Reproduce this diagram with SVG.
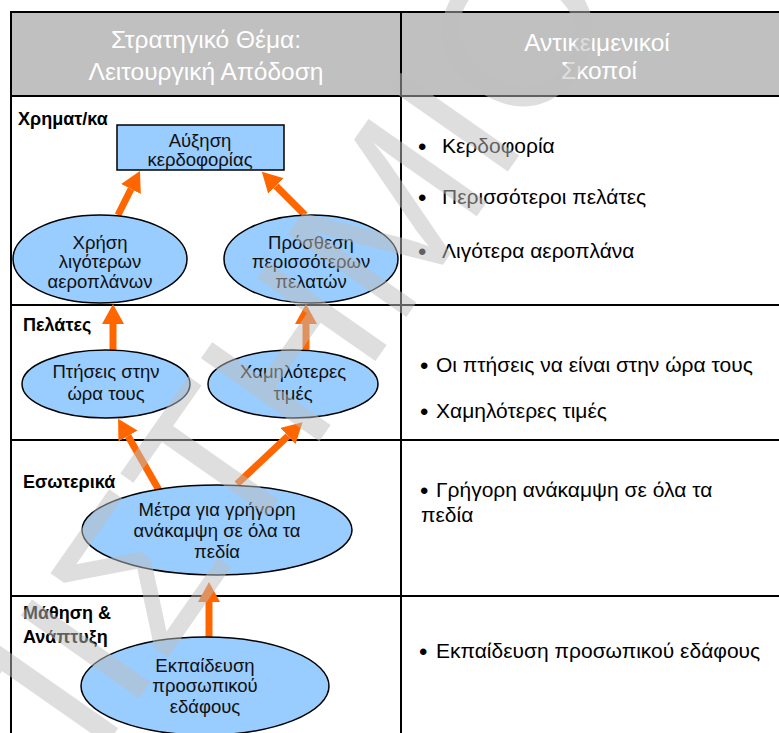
<svg xmlns="http://www.w3.org/2000/svg" width="779" height="733" viewBox="0 0 779 733">
  <style>
    .grid { stroke: #000; stroke-width: 2; fill: none; }
    .head { font-family: "Liberation Sans", Arial, sans-serif; font-size: 24.5px; fill: #fff; text-anchor: middle; }
    .lane { font-family: "Liberation Sans", Arial, sans-serif; font-size: 18px; font-weight: bold; fill: #000; }
    .node { fill: #99ccff; stroke: #000; stroke-width: 1.5; }
    .lbl { font-family: "Liberation Sans", Arial, sans-serif; font-size: 18.5px; fill: #111; text-anchor: middle; }
    .goal { font-family: "Liberation Sans", Arial, sans-serif; font-size: 21px; fill: #000; }
    .dot { font-family: "Liberation Sans", Arial, sans-serif; font-size: 24px; fill: #000; }
    .arrow { stroke: #ff6600; stroke-width: 7; fill: none; marker-end: url(#head); }
    .mark { font-family: "Liberation Sans", Arial, sans-serif; font-size: 210px; fill: #bfbfbf; opacity: 0.5; }
  </style>
  <defs>
    <marker id="head" viewBox="0 0 20 22" refX="0" refY="11" markerWidth="20" markerHeight="22" markerUnits="userSpaceOnUse" orient="auto">
      <path d="M0,0 L20,11 L0,22 Z" fill="#ff6600"/>
    </marker>
  </defs>

  <rect width="779" height="733" fill="#fff"/>

  <!-- table frame -->
  <g id="table">
    <rect x="11" y="12" width="770" height="84" fill="#c0c0c0"/>
    <line class="grid" x1="10" y1="12" x2="779" y2="12"/>
    <line class="grid" x1="11" y1="11" x2="11" y2="733"/>
    <line class="grid" x1="401" y1="12" x2="401" y2="733"/>
    <line class="grid" x1="10" y1="96" x2="779" y2="96"/>
    <line class="grid" x1="10" y1="305" x2="779" y2="305"/>
    <line class="grid" x1="10" y1="440" x2="779" y2="440"/>
    <line class="grid" x1="10" y1="596" x2="779" y2="596"/>
  </g>

  <g id="header">
    <text class="head" x="206" y="48">Στρατηγικό Θέμα:</text>
    <text class="head" x="206" y="80">Λειτουργική Απόδοση</text>
    <text class="head" x="597" y="51">Αντικειμενικοί</text>
    <text class="head" x="599" y="79">Σκοποί</text>
  </g>

  <g id="lanes">
    <text class="lane" x="18" y="125">Χρηματ/κα</text>
    <text class="lane" x="23" y="331">Πελάτες</text>
    <text class="lane" x="23" y="488">Εσωτερικά</text>
    <text class="lane" x="23" y="619">Μάθηση &amp;</text>
    <text class="lane" x="23" y="643">Ανάπτυξη</text>
  </g>

  <!-- connectors -->
  <g id="connectors">
    <line class="arrow" x1="118" y1="215" x2="131" y2="189"/>
    <line class="arrow" x1="305" y1="215" x2="276" y2="186"/>
    <line class="arrow" x1="113" y1="350" x2="113" y2="324"/>
    <line class="arrow" x1="306" y1="350" x2="306" y2="324"/>
    <line class="arrow" x1="160" y1="492" x2="128" y2="436"/>
    <line class="arrow" x1="237" y1="484" x2="288" y2="436"/>
    <line class="arrow" x1="209" y1="637" x2="209" y2="602"/>
  </g>

  <!-- nodes -->
  <g id="profit">
    <rect class="node" x="117" y="125" width="167" height="45"/>
    <text class="lbl" x="200" y="147">Αύξηση</text>
    <text class="lbl" x="200" y="166">κερδοφορίας</text>
  </g>
  <g id="fewer-planes">
    <ellipse class="node" cx="100" cy="259" rx="87" ry="44"/>
    <text class="lbl" x="100" y="249">Χρήση</text>
    <text class="lbl" x="100" y="268">λιγότερων</text>
    <text class="lbl" x="100" y="288">αεροπλάνων</text>
  </g>
  <g id="more-customers">
    <ellipse class="node" cx="311" cy="259" rx="87" ry="44"/>
    <text class="lbl" x="311" y="249">Πρόσθεση</text>
    <text class="lbl" x="311" y="268">περισσότερων</text>
    <text class="lbl" x="311" y="288">πελατών</text>
  </g>
  <g id="on-time">
    <ellipse class="node" cx="106" cy="384" rx="84" ry="34"/>
    <text class="lbl" x="106" y="378">Πτήσεις στην</text>
    <text class="lbl" x="106" y="400">ώρα τους</text>
  </g>
  <g id="low-prices">
    <ellipse class="node" cx="293" cy="384" rx="85" ry="34"/>
    <text class="lbl" x="293" y="378">Χαμηλότερες</text>
    <text class="lbl" x="293" y="400">τιμές</text>
  </g>
  <g id="turnaround">
    <ellipse class="node" cx="217" cy="530" rx="135" ry="45"/>
    <text class="lbl" x="217" y="516">Μέτρα για γρήγορη</text>
    <text class="lbl" x="217" y="537">ανάκαμψη σε όλα τα</text>
    <text class="lbl" x="217" y="558">πεδία</text>
  </g>
  <g id="training">
    <ellipse class="node" cx="205" cy="686" rx="124" ry="49"/>
    <text class="lbl" x="205" y="672">Εκπαίδευση</text>
    <text class="lbl" x="205" y="692">προσωπικού</text>
    <text class="lbl" x="205" y="713">εδάφους</text>
  </g>

  <!-- objectives column -->
  <g id="objectives">
    <text class="dot" x="418" y="155">•</text><text class="goal" x="442" y="153">Κερδοφορία</text>
    <text class="dot" x="418" y="206">•</text><text class="goal" x="442" y="204">Περισσότεροι πελάτες</text>
    <text class="dot" x="418" y="260">•</text><text class="goal" x="442" y="258">Λιγότερα αεροπλάνα</text>
    <text class="dot" x="420" y="374">•</text><text class="goal" x="436" y="372">Οι πτήσεις να είναι στην ώρα τους</text>
    <text class="dot" x="420" y="420">•</text><text class="goal" x="436" y="418">Χαμηλότερες τιμές</text>
    <text class="dot" x="420" y="499">•</text><text class="goal" x="436" y="497">Γρήγορη ανάκαμψη σε όλα τα</text>
    <text class="goal" x="421" y="522">πεδία</text>
    <text class="dot" x="419" y="660">•</text><text class="goal" x="436" y="658">Εκπαίδευση προσωπικού εδάφους</text>
  </g>

  <!-- diagonal watermark -->
  <g id="watermark" transform="translate(624,6) rotate(-55)">
    <text class="mark" x="0" y="0" text-anchor="end">ΠΑΝΕΠΙΣΤΗΜΙΟ</text>
  </g>
</svg>
